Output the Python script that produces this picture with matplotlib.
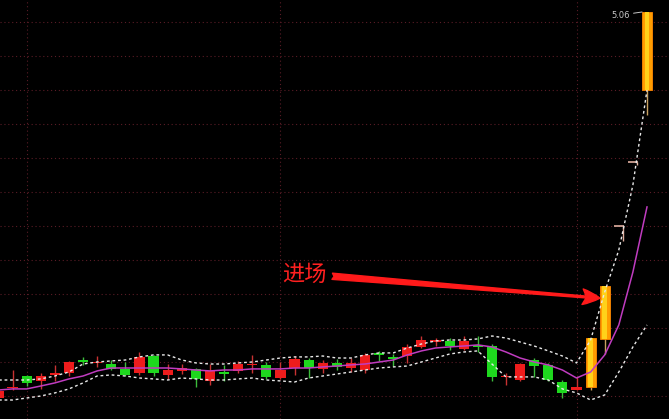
import matplotlib
matplotlib.use("Agg")
import matplotlib.pyplot as plt
import numpy as np

# daily candles: open, high, low, close
opens = [2.551, 2.616, 2.694, 2.662, 2.701, 2.714, 2.798, 2.779, 2.772, 2.740,
         2.714, 2.824, 2.701, 2.727, 2.740, 2.662, 2.720, 2.727, 2.766, 2.766,
         2.681, 2.746, 2.798, 2.740, 2.779, 2.746, 2.733, 2.844, 2.818, 2.824,
         2.883, 2.915, 2.922, 2.870, 2.896, 2.889, 2.688, 2.668, 2.798, 2.766,
         2.655, 2.603, 2.623, 2.935, 3.669, 4.085, 4.553]
highs = [2.603, 2.733, 2.701, 2.714, 2.766, 2.792, 2.818, 2.824, 2.798, 2.785,
         2.850, 2.831, 2.772, 2.772, 2.746, 2.772, 2.766, 2.792, 2.831, 2.785,
         2.785, 2.824, 2.811, 2.798, 2.805, 2.811, 2.844, 2.857, 2.837, 2.902,
         2.954, 2.941, 2.941, 2.954, 2.954, 2.902, 2.714, 2.779, 2.811, 2.779,
         2.668, 2.688, 2.941, 3.279, 3.669, 4.085, 5.060]
lows = [2.545, 2.603, 2.629, 2.610, 2.662, 2.694, 2.766, 2.753, 2.733, 2.694,
        2.701, 2.694, 2.675, 2.707, 2.623, 2.636, 2.662, 2.714, 2.714, 2.675,
        2.675, 2.701, 2.681, 2.714, 2.733, 2.720, 2.714, 2.792, 2.759, 2.779,
        2.876, 2.889, 2.863, 2.863, 2.850, 2.662, 2.636, 2.662, 2.688, 2.662,
        2.551, 2.603, 2.603, 2.837, 3.572, 4.066, 4.391]
closes = [2.597, 2.623, 2.649, 2.694, 2.714, 2.785, 2.785, 2.785, 2.740, 2.701,
          2.818, 2.714, 2.733, 2.746, 2.675, 2.727, 2.707, 2.772, 2.772, 2.688,
          2.733, 2.805, 2.746, 2.779, 2.753, 2.779, 2.831, 2.831, 2.805, 2.883,
          2.928, 2.928, 2.889, 2.922, 2.883, 2.688, 2.694, 2.772, 2.759, 2.668,
          2.584, 2.623, 2.941, 3.279, 3.669, 4.085, 5.060]

ma_line = [2.603, 2.610, 2.610, 2.629, 2.649, 2.675, 2.694, 2.727, 2.746, 2.746,
           2.746, 2.746, 2.746, 2.740, 2.733, 2.727, 2.733, 2.733, 2.740, 2.740,
           2.740, 2.746, 2.746, 2.753, 2.759, 2.766, 2.772, 2.785, 2.798, 2.831,
           2.857, 2.876, 2.883, 2.889, 2.896, 2.883, 2.850, 2.811, 2.785, 2.766,
           2.733, 2.681, 2.720, 2.831, 3.026, 3.370, 3.793]
upper_band = [2.668, 2.668, 2.668, 2.675, 2.694, 2.720, 2.772, 2.785, 2.792, 2.798,
              2.818, 2.831, 2.831, 2.798, 2.779, 2.772, 2.772, 2.779, 2.785, 2.798,
              2.811, 2.818, 2.818, 2.824, 2.811, 2.811, 2.831, 2.844, 2.844, 2.876,
              2.902, 2.922, 2.928, 2.928, 2.935, 2.954, 2.941, 2.915, 2.889, 2.857,
              2.824, 2.779, 2.928, 3.240, 3.513, 3.936, 4.553]
lower_band = [2.538, 2.538, 2.551, 2.564, 2.584, 2.610, 2.649, 2.694, 2.701, 2.694,
              2.681, 2.675, 2.668, 2.681, 2.675, 2.668, 2.668, 2.675, 2.681, 2.668,
              2.662, 2.655, 2.681, 2.694, 2.707, 2.720, 2.733, 2.746, 2.753, 2.759,
              2.785, 2.811, 2.837, 2.850, 2.857, 2.772, 2.688, 2.688, 2.688, 2.668,
              2.610, 2.584, 2.538, 2.571, 2.720, 2.883, 3.026]

limit_up_idx = [42, 43, 46]      # big gold candles
one_price_idx = [44, 45]         # T-shaped limit-up days
month_start_idx = [2, 20, 41]
price_grid = [2.564, 2.785, 3.006, 3.227, 3.448, 3.669, 3.890, 4.111, 4.332, 4.553, 4.774, 4.995]

n = len(opens)
x = np.arange(n)

fig = plt.figure(figsize=(6.69, 4.19), dpi=100)
fig.patch.set_facecolor("black")
ax = fig.add_axes([0, 0, 1, 1])
ax.set_facecolor("black")

# grid
grid_kw = dict(color="#5a1c26", linestyle=(0, (1, 2.5)), linewidth=0.8, zorder=0)
for p in price_grid:
    ax.axhline(p, **grid_kw)
for m in month_start_idx:
    ax.axvline(m, **grid_kw)

w = 0.72
for i in range(n):
    o, h, l, c = opens[i], highs[i], lows[i], closes[i]
    if i in limit_up_idx:
        ax.vlines(i, l, h, color="#c8a060", linewidth=1, zorder=1)
        ax.bar(i, c - o, bottom=o, width=w, color="#ff9d00", edgecolor="#ff8800",
               linewidth=0.6, zorder=2)
        ax.bar(i, c - o, bottom=o, width=w * 0.45, color="#ffd21a", linewidth=0, zorder=2)
        continue
    if i in one_price_idx:
        ax.vlines(i + 0.3, l, h, color="#e0b0a0", linewidth=1, zorder=2)
        ax.hlines(o, i - 0.35, i + 0.35, color="#e0b0a0", linewidth=1.2, zorder=2)
        continue
    if c >= o:
        body, wick = "#ee1c1c", "#c83232"
    else:
        body, wick = "#1ed81e", "#3cbc3c"
    ax.vlines(i, l, h, color=wick, linewidth=1, zorder=1)
    height = max(abs(c - o), 0.004)
    ax.bar(i, height, bottom=min(o, c) - (height - abs(c - o)) / 2, width=w,
           color=body, linewidth=0, zorder=2)

# moving average and bands
ax.plot(x, ma_line, color="#c03cc0", linewidth=1.1, zorder=3)
ax.plot(x, upper_band, color="#e8e8e8", linestyle=(0, (2, 2)), linewidth=1, zorder=3)
ax.plot(x, lower_band, color="#e8e8e8", linestyle=(0, (2, 2)), linewidth=1, zorder=3)

# max price label
top = int(np.argmax(highs))
ax.annotate(f"{highs[top]:.2f}", xy=(top - 0.35, highs[top]), xytext=(top - 1.25, highs[top] - 0.02),
            color="#c8c8c8", fontsize=6, ha="right", va="center",
            arrowprops=dict(arrowstyle="-", color="#c8c8c8", linewidth=0.7, shrinkA=1, shrinkB=0))

# entry annotation
ax.annotate("进场", xy=(42.67, 3.20), xytext=(21.7, 3.357),
            color="#ff2020", fontsize=16, ha="center", va="center",
            family=["Noto Sans CJK SC", "DejaVu Sans"],
            arrowprops=dict(arrowstyle="fancy,head_length=0.9,head_width=0.8,tail_width=0.32",
                            color="#ff1a1a", mutation_scale=14, shrinkA=2, shrinkB=0))

ax.set_xlim(0.11, 47.56)
ax.set_ylim(2.4145, 5.138)
ax.set_xticks([])
ax.set_yticks([])
for s in ax.spines.values():
    s.set_visible(False)

plt.savefig("out.png", dpi=100, facecolor="black")
